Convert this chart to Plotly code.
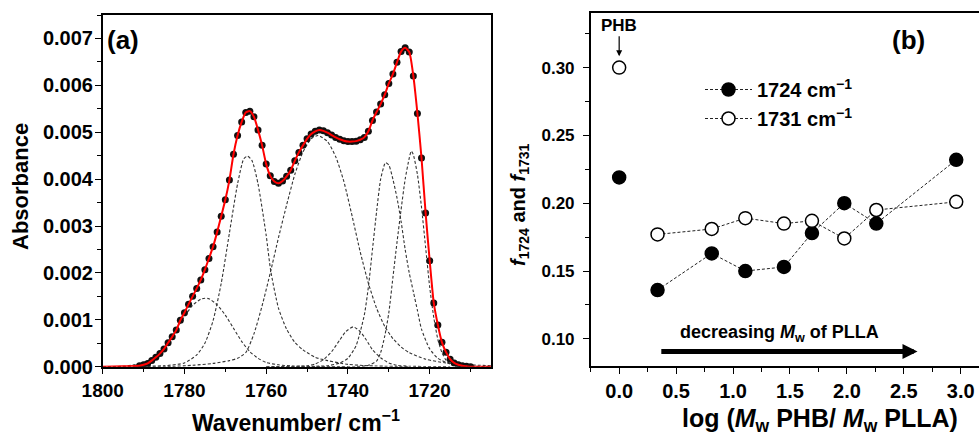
import plotly.graph_objects as go

# ---------- panel (a): FTIR carbonyl band and its fitted components ----------
wavenumber = [1791, 1790, 1789, 1788, 1787, 1786, 1785, 1784, 1783, 1782,
              1781, 1780, 1779, 1778, 1777, 1776, 1775, 1774, 1773, 1772,
              1771, 1770, 1769, 1768, 1767, 1766, 1765, 1764, 1763, 1762,
              1761, 1760, 1759, 1758, 1757, 1756, 1755, 1754, 1753, 1752,
              1751, 1750, 1749, 1748, 1747, 1746, 1745, 1744, 1743, 1742,
              1741, 1740, 1739, 1738, 1737, 1736, 1735, 1734, 1733, 1732,
              1731, 1730, 1729, 1728, 1727, 1726, 1725, 1724, 1723, 1722,
              1721, 1720, 1719, 1718, 1717, 1716, 1715, 1714, 1713, 1712,
              1711, 1710]
absorbance = [0.00002, 0.00004, 0.00007, 0.00013, 0.00020, 0.00028, 0.00038, 0.00051, 0.00064, 0.00078,
              0.00099, 0.00115, 0.00133, 0.00150, 0.00167, 0.00185, 0.00207, 0.00231, 0.00256, 0.00287,
              0.00321, 0.00356, 0.00398, 0.00453, 0.00493, 0.00522, 0.00542, 0.00545, 0.00533, 0.00505,
              0.00472, 0.00432, 0.00407, 0.00395, 0.00391, 0.00396, 0.00406, 0.00419, 0.00439, 0.00457,
              0.00472, 0.00486, 0.00496, 0.00502, 0.00505, 0.00503, 0.00499, 0.00494, 0.00489, 0.00485,
              0.00482, 0.00480, 0.00480, 0.00481, 0.00484, 0.00489, 0.00502, 0.00525, 0.00543, 0.00560,
              0.00580, 0.00604, 0.00624, 0.00649, 0.00672, 0.00680, 0.00671, 0.00620, 0.00540, 0.00445,
              0.00328, 0.00226, 0.00136, 0.00089, 0.00052, 0.00031, 0.00016, 0.00008, 0.00004, 0.00002,
              0.00001, 0.00000]

# fitted envelope (red)
fit_x = [1800, 1795] + wavenumber + [1708, 1705]
fit_y = [0.0, 0.00001] + absorbance + [0.0, 0.0]

# component bands (dashed)
c1775_x = [1800, 1795, 1791, 1788, 1786, 1784, 1782, 1780, 1778, 1776, 1775, 1774, 1772, 1770, 1768, 1766, 1764, 1762, 1760, 1757, 1753, 1748, 1740]
c1775_y = [0.0, 0.00001, 0.00006, 0.00016, 0.00030, 0.00052, 0.00080, 0.00107, 0.00131, 0.00144, 0.00146, 0.00145, 0.00132, 0.00110, 0.00082, 0.00054, 0.00032, 0.00018, 0.00009, 0.00004, 0.00001, 0.0, 0.0]

c1765_x = [1800, 1790, 1785, 1780, 1777, 1775, 1773, 1771, 1769, 1767, 1765.5, 1764.6, 1763.5, 1762, 1760, 1758.9, 1757, 1755, 1753, 1751, 1748, 1745, 1740, 1735, 1725]
c1765_y = [0.0, 0.00001, 0.00002, 0.00008, 0.00025, 0.00050, 0.00098, 0.00178, 0.00285, 0.00390, 0.00443, 0.00449, 0.00440, 0.00390, 0.00280, 0.00205, 0.00125, 0.00080, 0.00052, 0.00036, 0.00020, 0.00013, 0.00005, 0.00002, 0.0]

c1747_x = [1800, 1785, 1778, 1773, 1769, 1767, 1765, 1763, 1761, 1759, 1757, 1755, 1753, 1751, 1749, 1747.3, 1745, 1743, 1741, 1739, 1737, 1735, 1733, 1731, 1729, 1727, 1725, 1721, 1716, 1710, 1705]
c1747_y = [0.0, 0.0, 0.00003, 0.00007, 0.00013, 0.00018, 0.00030, 0.00070, 0.00130, 0.00200, 0.00275, 0.00345, 0.00410, 0.00458, 0.00486, 0.00493, 0.00480, 0.00448, 0.00395, 0.00322, 0.00245, 0.00178, 0.00125, 0.00086, 0.00060, 0.00042, 0.00030, 0.00016, 0.00008, 0.00004, 0.00002]

c1739_x = [1760, 1750, 1748, 1746, 1744, 1742, 1740.5, 1738.7, 1737, 1735.5, 1734, 1732, 1730, 1728, 1725, 1715]
c1739_y = [0.0, 0.00002, 0.00006, 0.00015, 0.00032, 0.00057, 0.00075, 0.00085, 0.00075, 0.00057, 0.00036, 0.00019, 0.00008, 0.00003, 0.00001, 0.0]

c1731_x = [1760, 1748, 1745, 1742, 1740, 1738, 1736, 1735, 1734, 1733, 1732, 1731, 1730.8, 1730, 1729, 1728, 1727, 1726, 1725, 1724, 1723, 1722, 1720, 1718, 1715, 1712, 1705]
c1731_y = [0.0, 0.00001, 0.00002, 0.00008, 0.00018, 0.00045, 0.00110, 0.00170, 0.00250, 0.00330, 0.00400, 0.00433, 0.00435, 0.00430, 0.00400, 0.00360, 0.00310, 0.00250, 0.00200, 0.00160, 0.00120, 0.00080, 0.00038, 0.00018, 0.00006, 0.00002, 0.0]

c1724_x = [1750, 1738, 1735, 1733, 1732, 1731, 1730, 1729, 1728, 1727, 1726, 1725, 1724.5, 1724, 1723, 1722, 1721, 1720, 1719, 1718, 1717, 1716, 1715, 1713, 1710, 1705]
c1724_y = [0.0, 0.0, 0.00003, 0.00012, 0.00030, 0.00065, 0.00115, 0.00190, 0.00265, 0.00335, 0.00400, 0.00445, 0.00460, 0.00452, 0.00410, 0.00340, 0.00255, 0.00170, 0.00105, 0.00058, 0.00030, 0.00014, 0.00006, 0.00001, 0.0, 0.0]

components = [(c1775_x, c1775_y), (c1765_x, c1765_y), (c1747_x, c1747_y),
              (c1739_x, c1739_y), (c1731_x, c1731_y), (c1724_x, c1724_y)]

# ---------- panel (b): band fractions vs log(Mw ratio) ----------
phb_x = [0.0]
phb_f1724 = [0.219]
phb_f1731 = [0.300]
log_ratio = [0.337, 0.813, 1.108, 1.447, 1.693, 1.977, 2.258, 2.96]
f1724 = [0.136, 0.163, 0.150, 0.153, 0.178, 0.200, 0.185, 0.232]
f1731 = [0.177, 0.181, 0.189, 0.185, 0.187, 0.174, 0.195, 0.201]

FONT = "Liberation Sans, Arial, sans-serif"
W, H = 979, 438


def px_x(p):
    return p / W


def px_y(p):
    return 1 - p / H


fig = go.Figure()

for cx, cy in components:
    fig.add_trace(go.Scatter(
        x=cx, y=cy, mode="lines", line=dict(color="#333333", width=1.1, dash="3px,2px", shape="spline", smoothing=0.6),
        showlegend=False, xaxis="x", yaxis="y", hoverinfo="skip"))

fig.add_trace(go.Scatter(
    x=wavenumber, y=absorbance, mode="markers",
    marker=dict(color="#111111", size=7, line=dict(width=0)),
    showlegend=False, xaxis="x", yaxis="y"))
fig.add_trace(go.Scatter(
    x=fit_x, y=fit_y, mode="lines", line=dict(color="#ff0000", width=2, shape="spline", smoothing=0.6),
    showlegend=False, xaxis="x", yaxis="y"))

# panel b
line_style = dict(color="#222222", width=1, dash="3px,2px")
fig.add_trace(go.Scatter(
    x=log_ratio, y=f1724, mode="lines+markers", name="1724 cm<sup>−1</sup>",
    line=line_style, marker=dict(color="black", size=13, line=dict(color="black", width=1.5)),
    xaxis="x2", yaxis="y2"))
fig.add_trace(go.Scatter(
    x=log_ratio, y=f1731, mode="lines+markers", name="1731 cm<sup>−1</sup>",
    line=line_style, marker=dict(color="white", size=13, line=dict(color="black", width=1.5)),
    xaxis="x2", yaxis="y2"))
fig.add_trace(go.Scatter(
    x=phb_x, y=phb_f1724, mode="markers", showlegend=False,
    marker=dict(color="black", size=13, line=dict(color="black", width=1.5)),
    xaxis="x2", yaxis="y2"))
fig.add_trace(go.Scatter(
    x=phb_x, y=phb_f1731, mode="markers", showlegend=False,
    marker=dict(color="white", size=13, line=dict(color="black", width=1.5)),
    xaxis="x2", yaxis="y2"))

axis_common = dict(
    showline=True, linecolor="black", linewidth=1.5, mirror=True,
    ticks="outside", tickcolor="black", tickwidth=1.3, ticklen=6,
    showgrid=False, zeroline=False, automargin=False,
)

fig.update_layout(
    width=W, height=H,
    margin=dict(l=0, r=0, t=0, b=0),
    paper_bgcolor="white", plot_bgcolor="white",
    font=dict(family=FONT, color="black"),
    xaxis=dict(
        axis_common, domain=[px_x(102.7), px_x(491)], range=[1800, 1705],
        tickvals=[1800, 1780, 1760, 1740, 1720],
        minor=dict(ticks="outside", ticklen=4, tickcolor="black", tickwidth=1.2, dtick=10, tick0=1800),
        tickfont=dict(size=19, weight="bold"), anchor="y",
    ),
    yaxis=dict(
        axis_common, domain=[px_y(366.7), px_y(15)], range=[0, 0.0075],
        dtick=0.001, tickformat=".3f",
        minor=dict(ticks="outside", ticklen=4, tickcolor="black", tickwidth=1.2, dtick=0.0005),
        tickfont=dict(size=20, weight="bold"), anchor="x", ticklabelstandoff=-2,
    ),
    xaxis2=dict(
        axis_common, domain=[px_x(590.7), 1.0], range=[-0.25, 3.16],
        dtick=0.5, tick0=0, tickformat=".1f",
        minor=dict(ticks="outside", ticklen=4, tickcolor="black", tickwidth=1.2, dtick=0.25, tick0=0),
        tickfont=dict(size=20, weight="bold"), anchor="y2",
    ),
    yaxis2=dict(
        axis_common, domain=[px_y(366), px_y(13.3)], range=[0.08, 0.34], mirror=False,
        dtick=0.05, tick0=0.1, tickformat=".2f",
        minor=dict(ticks="outside", ticklen=4, tickcolor="black", tickwidth=1.2, dtick=0.025, tick0=0.1),
        tickfont=dict(size=17, weight="bold"), anchor="x2", ticklabelstandoff=5,
    ),
    legend=dict(
        x=px_x(700), y=px_y(70), xanchor="left", yanchor="top",
        font=dict(size=20, weight="bold"), bgcolor="rgba(0,0,0,0)", itemwidth=47,
    ),
    showlegend=True,
)

bold = dict(family=FONT, color="black", weight="bold")
annotations = [
    dict(text="Absorbance", x=px_x(20), y=px_y(187), textangle=-90, font=dict(bold, size=22)),
    dict(text="Wavenumber/ cm<sup>−1</sup>", x=px_x(296), y=px_y(421), font=dict(bold, size=23)),
    dict(text="(a)", x=px_x(123), y=px_y(40), font=dict(bold, size=26)),
    dict(text="(b)", x=px_x(908), y=px_y(40), font=dict(bold, size=26)),
    dict(text="<i>f</i><sub>1724</sub> and <i>f</i><sub>1731</sub>", x=px_x(520), y=px_y(205),
         textangle=-90, font=dict(bold, size=20)),
    dict(text="log (<i>M</i><sub>w</sub> PHB/ <i>M</i><sub>w</sub> PLLA)", x=px_x(820), y=px_y(420),
         font=dict(bold, size=25)),
    dict(text="decreasing <i>M</i><sub>w</sub> of PLLA", x=px_x(779), y=px_y(333), font=dict(bold, size=18)),
]
for a in annotations:
    fig.add_annotation(xref="paper", yref="paper", showarrow=False, xanchor="center", yanchor="middle", **a)

# PHB pointer
fig.add_annotation(xref="x2", yref="y2", x=0.0, y=0.3083, ax=0, ay=-31,
                   text="PHB", font=dict(bold, size=17), showarrow=True,
                   arrowhead=2, arrowsize=1, arrowwidth=1.2, arrowcolor="black")

# trend arrow
arrow_start, arrow_end, arrow_y = 0.357, 2.62, 0.0906
fig.add_annotation(xref="x2", yref="y2", axref="x2", ayref="y2",
                   x=arrow_end, y=arrow_y, ax=arrow_start, ay=arrow_y, text="",
                   showarrow=True, arrowhead=2, arrowsize=0.6, arrowwidth=5, arrowcolor="black")

# drop the default body margin so the figure sits at the window's top-left corner
fig.write_html("out.html", config={"displayModeBar": False},
               post_script="document.body.style.margin='0';")
